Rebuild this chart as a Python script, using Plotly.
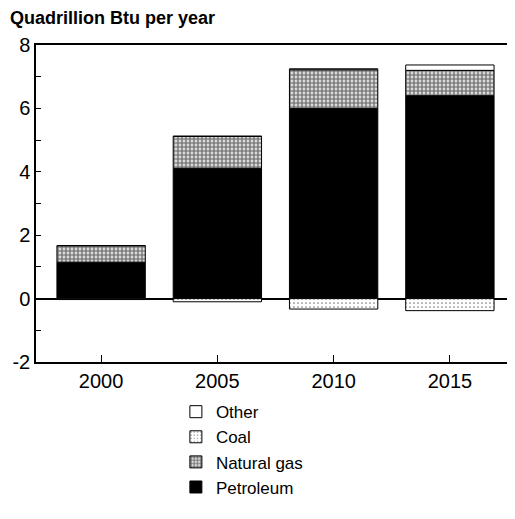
import plotly.graph_objects as go

years = ["2000", "2005", "2010", "2015"]
petroleum = [1.15, 4.11, 6.0, 6.40]
natural_gas = [0.52, 1.01, 1.22, 0.80]
coal = [-0.03, -0.10, -0.33, -0.38]
other = [0.0, 0.0, 0.03, 0.17]

y_tickvals = list(range(-2, 9))
y_ticktext = [str(v) if v % 2 == 0 else "" for v in y_tickvals]

FONT = "Liberation Sans, Arial, sans-serif"

fig = go.Figure()
line = dict(color="black", width=1)
fig.add_trace(go.Bar(x=years, y=petroleum, name="Petroleum", legendgroup="p", legendrank=4,
                     marker=dict(color="black", line=line)))
fig.add_trace(go.Bar(x=years, y=natural_gas, name="Natural gas", legendgroup="g", legendrank=3,
                     marker=dict(color="white", line=line,
                                 pattern=dict(shape=".", size=4, solidity=0.72,
                                              fgcolor="black", bgcolor="white"))))
fig.add_trace(go.Bar(x=years, y=coal, name="Coal", legendgroup="c", legendrank=2,
                     marker=dict(color="white", line=line,
                                 pattern=dict(shape=".", size=4, solidity=0.15,
                                              fgcolor="black", bgcolor="white"))))
fig.add_trace(go.Bar(x=years, y=other, name="Other", legendgroup="o", legendrank=1,
                     marker=dict(color="white", line=line)))

fig.update_layout(
    width=515, height=519,
    margin=dict(l=28, r=8, t=37, b=165, autoexpand=False),
    barmode="relative",
    bargap=0.24,
    plot_bgcolor="white", paper_bgcolor="white",
    font=dict(family=FONT, color="black"),
    showlegend=True,
    legend=dict(x=0.326, y=0.256, xref="container", yref="container",
                xanchor="left", yanchor="top",
                traceorder="grouped", tracegroupgap=0,
                font=dict(size=17, family=FONT), bgcolor="rgba(0,0,0,0)"),
    annotations=[dict(text="<b>Quadrillion Btu per year</b>", xref="paper", yref="paper",
                      x=-0.0585, y=1.048, xanchor="left", yanchor="bottom", showarrow=False,
                      font=dict(size=18, family=FONT))],
)
fig.update_xaxes(type="category", range=[-0.56, 3.56], showline=True, linecolor="black",
                 linewidth=1.5, mirror=True, ticks="inside", ticklen=7, tickcolor="black",
                 tickfont=dict(size=20), showgrid=False, automargin=False)
fig.update_yaxes(range=[-2, 8], tickvals=y_tickvals, ticktext=y_ticktext, showline=True,
                 linecolor="black", linewidth=1.5, ticks="inside", ticklen=5,
                 tickcolor="black", tickfont=dict(size=20), showgrid=False,
                 zeroline=True, zerolinecolor="black", zerolinewidth=1.5, automargin=False)

fig.write_html("out.html")
